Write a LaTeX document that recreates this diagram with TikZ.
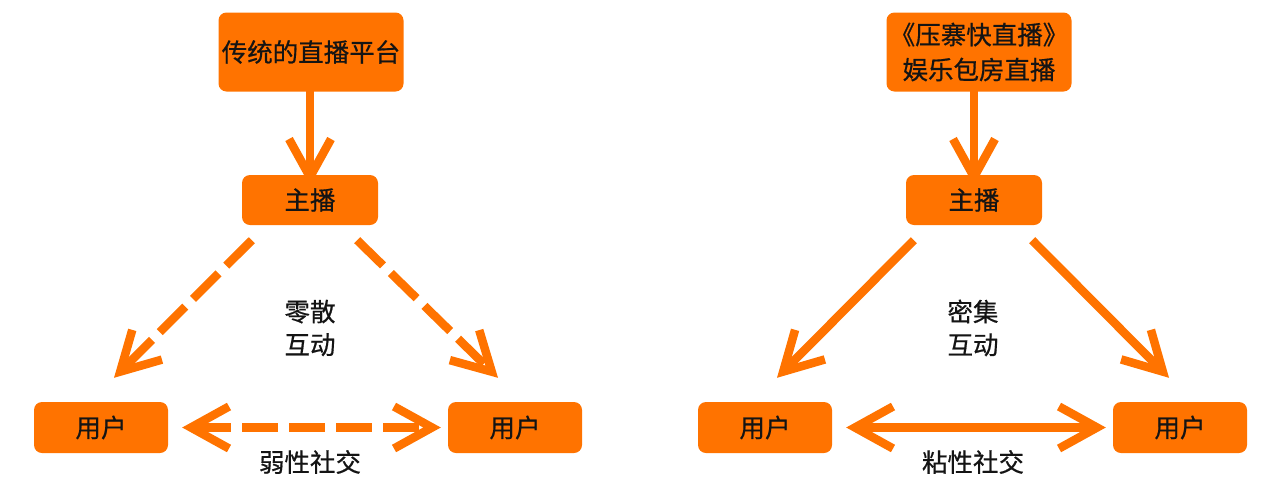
\documentclass[tikz,border=0pt]{standalone}
\usepackage{fontspec}
\setmainfont[FakeBold=0.6]{Noto Sans CJK SC}
\usetikzlibrary{arrows.meta}
\definecolor{org}{HTML}{FF7300}
\definecolor{txt}{HTML}{141414}
\begin{document}
\begin{tikzpicture}[x=1pt,y=-1pt,
  box/.style={fill=org,rounded corners=8pt,inner sep=0pt,text=txt,font=\fontsize{25.5}{35}\selectfont,align=center},
  lbl/.style={text=txt,font=\fontsize{25.5}{33}\selectfont,align=center,inner sep=0pt},
  hd/.tip={Straight Barb[length=38pt,width=42pt,sharp]},
  arr/.style={draw=org,line width=8.5pt,-hd},
  darr/.style={draw=org,line width=8.5pt,hd-hd},
  dsh/.style={dash pattern=on 36pt off 11pt}]
\useasboundingbox (0,0) rectangle (1268,491);
% left panel
\node[box,minimum width=185pt,minimum height=79pt] (t1) at (311,52) {传统的直播平台};
\node[box,minimum width=136pt,minimum height=50pt] (z1) at (310,200) {主播};
\node[box,minimum width=134pt,minimum height=51pt] (u1) at (101,427.5) {用户};
\node[box,minimum width=134pt,minimum height=51pt] (u2) at (515,427.5) {用户};
\node[lbl] (l1) at (310,328) {零散\\互动};
\node[lbl] (s1) at (310,462) {弱性社交};
\draw[arr] ([yshift=4pt]t1.south -| z1.north) -- ([yshift=-11pt]z1.north);
\draw[arr,dsh] ([shift={(10,15)}]z1.south west) -- ([shift={(13,-24)}]u1.north);
\draw[arr,dsh] ([shift={(-21,15)}]z1.south east) -- ([shift={(-17,-24)}]u2.north);
\draw[darr,dsh] ([xshift=14pt]u1.east) -- ([xshift=-7pt]u2.west);
% right panel
\node[box,minimum width=185pt,minimum height=79pt] (t2) at (979,52) {《压寨快直播》\\娱乐包房直播};
\node[box,minimum width=136pt,minimum height=50pt] (z2) at (974,200) {主播};
\node[box,minimum width=134pt,minimum height=51pt] (u3) at (765,427.5) {用户};
\node[box,minimum width=134pt,minimum height=51pt] (u4) at (1180,427.5) {用户};
\node[lbl] (l2) at (973,328) {密集\\互动};
\node[lbl] (s2) at (973,462) {粘性社交};
\draw[arr] ([yshift=4pt]t2.south -| z2.north) -- ([yshift=-11pt]z2.north);
\draw[arr] ([shift={(8,15)}]z2.south west) -- ([shift={(12,-24)}]u3.north);
\draw[arr] ([shift={(-10,15)}]z2.south east) -- ([shift={(-11,-24)}]u4.north);
\draw[darr] ([xshift=14pt]u3.east) -- ([xshift=-7pt]u4.west);
\end{tikzpicture}
\end{document}
